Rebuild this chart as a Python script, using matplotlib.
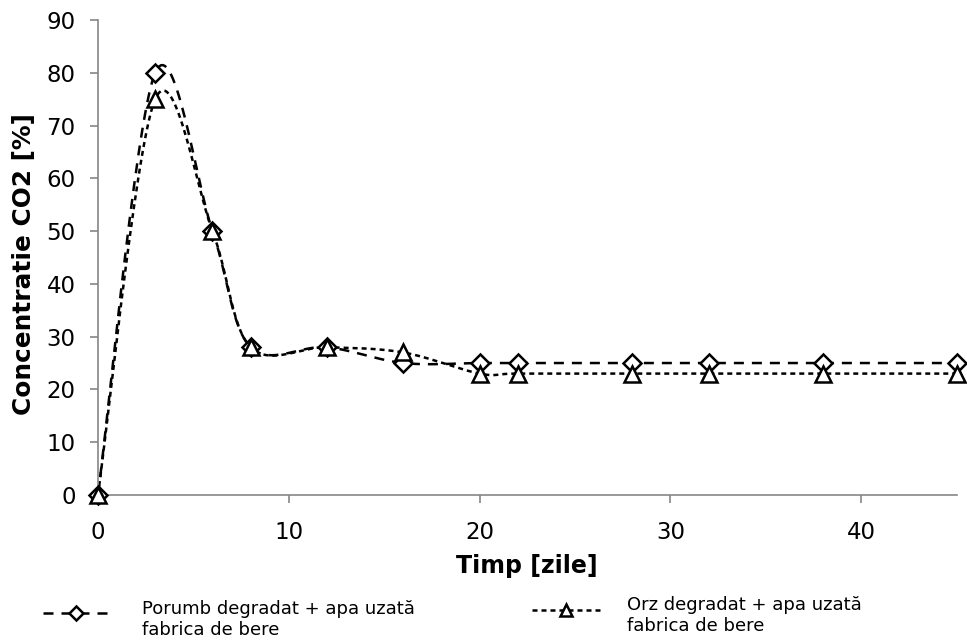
import numpy as np
import matplotlib
matplotlib.use("Agg")
import matplotlib.pyplot as plt
from matplotlib.lines import Line2D

# Sampling days and CO2 concentration (%) for each substrate mix
days = [0, 3, 6, 8, 12, 16, 20, 22, 28, 32, 38, 45]
porumb = [0, 80, 50, 28, 28, 25, 25, 25, 25, 25, 25, 25]
orz = [0, 75, 50, 28, 28, 27, 23, 23, 23, 23, 23, 23]

label_porumb = "Porumb degradat + apa uzată\nfabrica de bere"
label_orz = "Orz degradat + apa uzată\nfabrica de bere"


def smooth(xs, ys, n=30):
    """Parametric Catmull-Rom curve through the points (spreadsheet-style smoothing)."""
    p = np.column_stack([xs, ys]).astype(float)
    p = np.vstack([p[0], p, p[-1]])
    out = []
    for i in range(1, len(p) - 2):
        p0, p1, p2, p3 = p[i - 1], p[i], p[i + 1], p[i + 2]
        c1 = p1 + (p2 - p0) / 6.0
        c2 = p2 - (p3 - p1) / 6.0
        t = np.linspace(0, 1, n, endpoint=False)[:, None]
        seg = ((1 - t) ** 3) * p1 + 3 * ((1 - t) ** 2) * t * c1 + 3 * (1 - t) * t ** 2 * c2 + t ** 3 * p2
        out.append(seg)
    out.append(p[-2][None, :])
    c = np.vstack(out)
    return c[:, 0], c[:, 1]


W, H = 967, 644
fig = plt.figure(figsize=(W / 100, H / 100), dpi=100)
ax = fig.add_axes([0.1013, 0.2314, 0.888, 0.7376])

gray = "#868686"
lw = 1.8
dash_p = (0, (4.0, 3.2))
dash_o = (0, (2.0, 1.6))

sx, sy = smooth(days, porumb)
ax.plot(sx, sy, color="black", lw=lw, ls=dash_p, zorder=2)
ax.plot(days, porumb, ls="none", marker="D", ms=9, mfc="white", mec="black", mew=1.8, zorder=3)

sx, sy = smooth(days, orz)
ax.plot(sx, sy, color="black", lw=lw, ls=dash_o, zorder=2)
ax.plot(days, orz, ls="none", marker="^", ms=11, mfc="white", mec="black", mew=1.8, zorder=3)

ax.set_xlim(0, 45)
ax.set_ylim(0, 90)
ax.set_xticks([0, 10, 20, 30, 40])
ax.set_yticks(range(0, 91, 10))
for s in ["top", "right"]:
    ax.spines[s].set_visible(False)
for s in ["left", "bottom"]:
    ax.spines[s].set_color(gray)
    ax.spines[s].set_linewidth(1.2)
ax.tick_params(axis="both", direction="out", length=6, width=1.2, color=gray,
               labelsize=16.5)
ax.tick_params(axis="y", pad=10)
ax.tick_params(axis="x", pad=13)
ax.margins(0)
for ln in ax.lines:
    ln.set_clip_on(False)

ax.set_xlabel("Timp [zile]", fontsize=17, fontweight="bold", labelpad=7)
ax.set_ylabel("Concentratie CO2 [%]", fontsize=17.8, fontweight="bold")
ax.yaxis.set_label_coords(-0.072, 0.487)


# Legend entries below the plot, drawn in figure pixel coordinates
def fx(px):
    return px / W


def fy(py):
    return 1 - py / H


def legend_entry(x0, x1, yc, ls, marker, ms, text, tx, ty):
    fig.add_artist(Line2D([fx(x0), fx((x0 + x1) / 2), fx(x1)], [fy(yc)] * 3,
                          transform=fig.transFigure, color="black", lw=lw, ls=ls,
                          marker=marker, markevery=[1], ms=ms, mfc="white",
                          mec="black", mew=1.8))
    fig.text(fx(tx), fy(ty), text, fontsize=13, ha="left", va="top", linespacing=1.2)


legend_entry(43, 108, 613, dash_p, "D", 7.5, label_porumb, 142, 600)
legend_entry(532, 600, 610, dash_o, "^", 9, label_orz, 627, 596)

fig.savefig("out.png", dpi=100)
